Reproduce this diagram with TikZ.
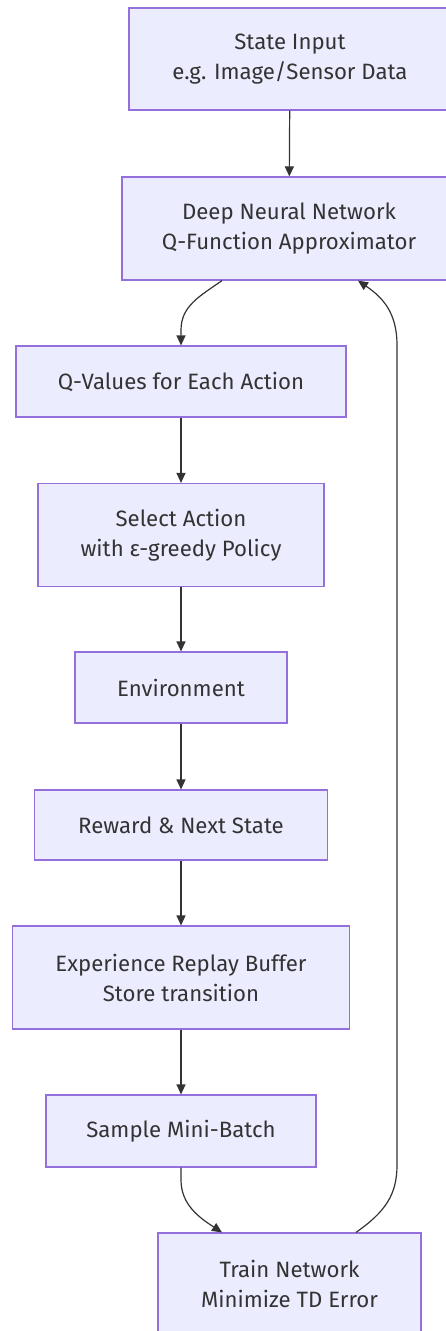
\documentclass[tikz,border=0pt]{standalone}
\usepackage{fontspec}
\setmainfont{Fira Sans}
\usetikzlibrary{arrows.meta}
\definecolor{boxfill}{HTML}{ECECFF}
\definecolor{boxline}{HTML}{9370DB}
\definecolor{ink}{HTML}{333333}
\tikzset{
  stepbox/.style={draw=boxline, fill=boxfill, line width=1.2pt, inner sep=0pt,
    text=ink, align=center, font=\fontsize{22.2}{30}\selectfont},
  flow/.style={draw=ink, line width=1.2pt, -{Triangle[length=10pt,width=9pt]}},
}
\begin{document}
\begin{tikzpicture}[x=1pt,y=-1pt]
\useasboundingbox (0,0) rectangle (446,1331);
\begin{scope}
\clip (0,0) rectangle (446,1331);
\node[stepbox, minimum width=322pt, minimum height=102pt] (st) at (290,59) {State Input\\e.g. Image/Sensor Data};
\node[stepbox, minimum width=334pt, minimum height=103pt] (dnn) at (289,228.5) {Deep Neural Network\\Q-Function Approximator};
\node[stepbox, minimum width=330pt, minimum height=71pt] (qv) at (181,381.5) {Q-Values for Each Action};
\node[stepbox, minimum width=286pt, minimum height=103pt] (sel) at (181,535) {Select Action\\with ε-greedy Policy};
\node[stepbox, minimum width=212pt, minimum height=71pt] (env) at (181,687.5) {Environment};
\node[stepbox, minimum width=293pt, minimum height=70pt] (rew) at (181,825) {Reward \& Next State};
\node[stepbox, minimum width=337pt, minimum height=103pt] (exp) at (181,977.5) {Experience Replay Buffer\\Store transition};
\node[stepbox, minimum width=270pt, minimum height=72pt] (smp) at (181,1131) {Sample Mini-Batch};
\node[stepbox, minimum width=263pt, minimum height=102pt] (trn) at (289.5,1284) {Train Network\\Minimize TD Error};

% straight links down the main column
\draw[flow] (st) -- (dnn);
\draw[flow] (qv) -- (sel);
\draw[flow] (sel) -- (env);
\draw[flow] (env) -- (rew);
\draw[flow] (rew) -- (exp);
\draw[flow] (exp) -- (smp);

% curved links
\coordinate (dnnOut) at ([xshift=-67pt]dnn.south);
\coordinate (dnnIn) at ([xshift=69pt]dnn.south);
\coordinate (trnIn) at ([xshift=-67.5pt]trn.north);
\coordinate (trnOut) at ([xshift=66.5pt]trn.north);
\draw[flow] (dnnOut) .. controls (200,296) and (181,306) .. (181,330) -- (qv.north);
\draw[flow] (smp.south) -- (181,1180) .. controls (181,1205) and (200,1218) .. (trnIn);
\draw[flow] (trnOut) .. controls (385,1212) and (397,1195) .. (397,1165)
  -- (397,345) .. controls (397,312) and (382,297) .. (dnnIn);
\end{scope}
\end{tikzpicture}
\end{document}
